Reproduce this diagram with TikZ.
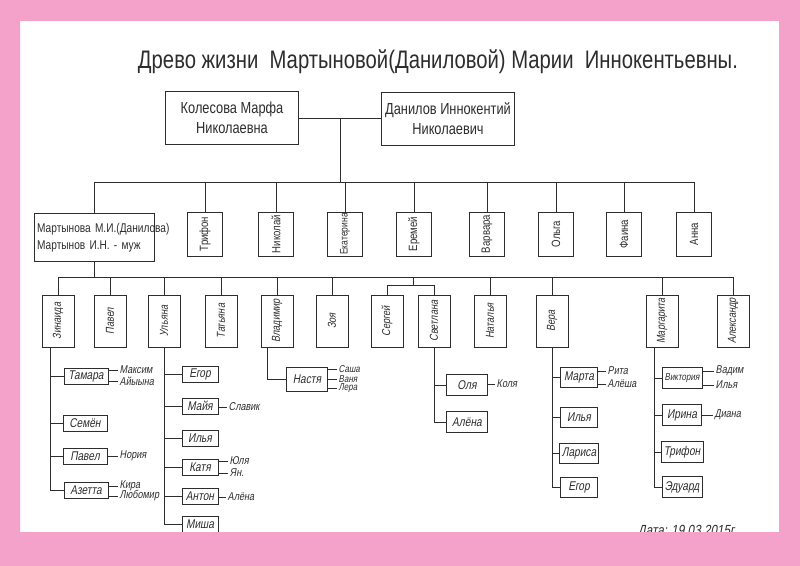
\documentclass[tikz,border=0pt]{standalone}
\usepackage{fontspec}
\usepackage{graphicx}
\setmainfont{Liberation Sans}[FakeStretch=0.8]
\newfontfamily\handfont{Liberation Sans}[FakeStretch=0.8,FakeSlant=0.18]
\usetikzlibrary{positioning,calc}
\definecolor{ink}{RGB}{45,45,45}
\definecolor{pinkframe}{RGB}{245,162,202}

\begin{document}
\begin{tikzpicture}[x=0.75pt, y=-0.75pt, line width=0.6pt, color=ink,
  parent/.style={draw, minimum width=100pt, minimum height=40pt, align=center,
                 font=\fontsize{12}{15}\selectfont, inner sep=2pt},
  self/.style={draw, line width=1.4pt, text width=86pt, minimum height=36pt, align=left,
               font=\fontsize{9.5}{13}\selectfont, inner sep=2pt},
  child/.style={draw, minimum width=26pt, minimum height=33pt, inner sep=0.5pt,
                font=\fontsize{9}{10}\selectfont},
  grand/.style={draw, minimum width=24pt, minimum height=39pt, inner sep=0.5pt,
                font=\handfont\fontsize{8.6}{10}\selectfont},
  kid/.style={draw, minimum height=12pt, inner xsep=2pt, inner ysep=1pt,
              font=\handfont\fontsize{9.5}{10}\selectfont},
  mate/.style={font=\handfont\fontsize{8.5}{9}\selectfont, inner sep=1pt, anchor=west}]

\useasboundingbox (0,0) rectangle (800,566);

\node[font=\fontsize{19}{23}\selectfont] (title) at (438,62)
  {Древо жизни\ \ Мартыновой(Даниловой) Марии\ \ Иннокентьевны.};

% parents
\node[parent] (kol) at (232,118) {Колесова Марфа\\Николаевна};
\node[parent] (dan) at (448,119) {Данилов Иннокентий\\Николаевич};

% their children
\node[self] (mart) at (94.5,237.5) {\mbox{Мартынова М.И.(Данилова)}\\\mbox{Мартынов И.Н. - муж}};
\node[child] (trif) at (205,234) {\rotatebox{90}{Трифон}};
\node[child] (nik) at (276,234) {\rotatebox{90}{Николай}};
\node[child, font=\fontsize{8}{9}\selectfont] (ekat) at (345,234) {\rotatebox{90}{Екатерина}};
\node[child] (erem) at (414,234) {\rotatebox{90}{Еремей}};
\node[child] (varv) at (487,234) {\rotatebox{90}{Варвара}};
\node[child] (olga) at (556,234) {\rotatebox{90}{Ольга}};
\node[child] (faina) at (624,234) {\rotatebox{90}{Фаина}};
\node[child] (anna) at (694,234) {\rotatebox{90}{Анна}};

\coordinate (join) at ($(kol.east)!.5!(dan.west)$);
\coordinate (bar2) at (0,182);
\draw (kol.east) -- (kol.east -| dan.west);
\draw (join) -- (join |- bar2);
\draw (mart.north |- bar2) -- (anna.north |- bar2);
\draw (mart.north) -- (mart.north |- bar2);
\draw (trif.north) -- (trif.north |- bar2);
\draw (nik.north) -- (nik.north |- bar2);
\draw (ekat.north) -- (ekat.north |- bar2);
\draw (erem.north) -- (erem.north |- bar2);
\draw (varv.north) -- (varv.north |- bar2);
\draw (olga.north) -- (olga.north |- bar2);
\draw (faina.north) -- (faina.north |- bar2);
\draw (anna.north) -- (anna.north |- bar2);

% grandchildren
\node[grand] (zin) at (58,321) {\rotatebox{90}{Зинаида}};
\node[grand] (pav) at (110,321) {\rotatebox{90}{Павел}};
\node[grand] (ulj) at (164,321) {\rotatebox{90}{Ульяна}};
\node[grand] (tat) at (221,321) {\rotatebox{90}{Татьяна}};
\node[grand] (vla) at (277,321) {\rotatebox{90}{Владимир}};
\node[grand] (zoja) at (332,321) {\rotatebox{90}{Зоя}};
\node[grand] (ser) at (387,321) {\rotatebox{90}{Сергей}};
\node[grand] (sve) at (434,321) {\rotatebox{90}{Светлана}};
\node[grand] (nat) at (490,321) {\rotatebox{90}{Наталья}};
\node[grand] (vera) at (552,321) {\rotatebox{90}{Вера}};
\node[grand] (marg) at (662,321) {\rotatebox{90}{Маргарита}};
\node[grand] (alex) at (733,321) {\rotatebox{90}{Александр}};

\coordinate (bar3) at (0,277);
\coordinate (fork) at (413,285);
\draw (mart.south) -- (mart.south |- bar3);
\draw (zin.north |- bar3) -- (alex.north |- bar3);
\draw (zin.north) -- (zin.north |- bar3);
\draw (pav.north) -- (pav.north |- bar3);
\draw (ulj.north) -- (ulj.north |- bar3);
\draw (tat.north) -- (tat.north |- bar3);
\draw (vla.north) -- (vla.north |- bar3);
\draw (zoja.north) -- (zoja.north |- bar3);
\draw (fork |- bar3) -- (fork);
\draw (ser.north) |- (fork);
\draw (sve.north) |- (fork);
\draw (nat.north) -- (nat.north |- bar3);
\draw (vera.north) -- (vera.north |- bar3);
\draw (marg.north) -- (marg.north |- bar3);
\draw (alex.north) -- (alex.north |- bar3);

% Zinaida's line
\coordinate (zs) at ([xshift=-6pt]zin.south);
\node[kid, minimum width=33pt] (tam) at (86,376) {Тамара};
\node[kid, minimum width=33pt] (sem) at (85,423) {Семён};
\node[kid, minimum width=33pt] (pavz) at (85,456) {Павел};
\node[kid, minimum width=33pt] (aze) at (86,490) {Азетта};
\draw (zs) |- (aze.west);
\draw (zs |- tam.west) -- (tam.west);
\draw (zs |- sem.west) -- (sem.west);
\draw (zs |- pavz.west) -- (pavz.west);
\node[mate] (maks) at (118,370) {Максим};
\node[mate] (ajy) at (118,381) {Айыына};
\node[mate] (nor) at (118,456) {Нория};
\node[mate] (kira) at (118,486) {Кира};
\node[mate] (lub) at (118,496) {Любомир};
\draw (tam.east |- maks.west) -- (maks.west);
\draw (tam.east |- ajy.west) -- (ajy.west);
\draw (pavz.east |- nor.west) -- (nor.west);
\draw (aze.east |- kira.west) -- (kira.west);
\draw (aze.east |- lub.west) -- (lub.west);

% Uljana's line
\node[kid, minimum width=27pt] (egor) at (200,374) {Егор};
\node[kid, minimum width=27pt] (maja) at (200,406) {Майя};
\node[kid, minimum width=27pt] (ilja) at (200,438) {Илья};
\node[kid, minimum width=27pt] (katja) at (200,467) {Катя};
\node[kid, minimum width=27pt] (anton) at (200,496) {Антон};
\node[kid, minimum width=27pt] (misha) at (200,524) {Миша};
\draw (ulj.south) |- (misha.west);
\draw (ulj.south |- egor.west) -- (egor.west);
\draw (ulj.south |- maja.west) -- (maja.west);
\draw (ulj.south |- ilja.west) -- (ilja.west);
\draw (ulj.south |- katja.west) -- (katja.west);
\draw (ulj.south |- anton.west) -- (anton.west);
\node[mate] (slav) at (227,407) {Славик};
\node[mate] (julja) at (228,461) {Юля};
\node[mate] (jan) at (228,473) {Ян.};
\node[mate] (alja) at (226,497) {Алёна};
\draw (maja.east |- slav.west) -- (slav.west);
\draw (katja.east |- julja.west) -- (julja.west);
\draw (katja.east |- jan.west) -- (jan.west);
\draw (anton.east |- alja.west) -- (alja.west);

% Vladimir's line
\coordinate (vs) at ([xshift=-7pt]vla.south);
\node[kid, minimum width=31pt, minimum height=18pt] (nast) at (307,379) {Настя};
\draw (vs) |- (nast.west);
\node[mate, font=\handfont\fontsize{7.5}{8}\selectfont] (sasha) at (337,369.5) {Саша};
\node[mate, font=\handfont\fontsize{7.5}{8}\selectfont] (vanja) at (337,379) {Ваня};
\node[mate, font=\handfont\fontsize{7.5}{8}\selectfont] (lera) at (337,388.5) {Лера};
\draw (nast.east |- sasha.west) -- (sasha.west);
\draw (nast.east |- vanja.west) -- (vanja.west);
\draw (nast.east |- lera.west) -- (lera.west);

% Svetlana's line
\node[kid, minimum width=31pt, minimum height=16pt] (olja) at (467,385) {Оля};
\node[kid, minimum width=31pt, minimum height=16pt] (alen) at (467,422) {Алёна};
\draw (sve.south) |- (alen.west);
\draw (sve.south |- olja.west) -- (olja.west);
\node[mate] (kolja) at (495,384) {Коля};
\draw (olja.east |- kolja.west) -- (kolja.west);

% Vera's line
\node[kid, minimum width=28pt, minimum height=15pt] (marta) at (579,377) {Марта};
\node[kid, minimum width=28pt, minimum height=15pt] (iljv) at (579,417) {Илья};
\node[kid, minimum width=28pt, minimum height=15pt] (lar) at (579,453) {Лариса};
\node[kid, minimum width=28pt, minimum height=15pt] (egorv) at (579,487) {Егор};
\draw (vera.south) |- (egorv.west);
\draw (vera.south |- marta.west) -- (marta.west);
\draw (vera.south |- iljv.west) -- (iljv.west);
\draw (vera.south |- lar.west) -- (lar.west);
\node[mate] (rita) at (606,371) {Рита};
\node[mate] (alesha) at (606,384) {Алёша};
\draw (marta.east |- rita.west) -- (rita.west);
\draw (marta.east |- alesha.west) -- (alesha.west);

% Margarita's line
\coordinate (ms) at ([xshift=-6pt]marg.south);
\node[kid, minimum width=29pt, minimum height=16pt, font=\handfont\fontsize{7.5}{9}\selectfont] (vikt) at (682,378) {Виктория};
\node[kid, minimum width=29pt, minimum height=16pt] (irina) at (682,415) {Ирина};
\node[kid, minimum width=29pt, minimum height=16pt] (trifm) at (682,452) {Трифон};
\node[kid, minimum width=29pt, minimum height=16pt] (edu) at (682,487) {Эдуард};
\draw (ms) |- (edu.west);
\draw (ms |- vikt.west) -- (vikt.west);
\draw (ms |- irina.west) -- (irina.west);
\draw (ms |- trifm.west) -- (trifm.west);
\node[mate] (vadim) at (714,371) {Вадим};
\node[mate] (iljm) at (714,385) {Илья};
\node[mate] (diana) at (713,415) {Диана};
\draw (vikt.east |- vadim.west) -- (vadim.west);
\draw (vikt.east |- iljm.west) -- (iljm.west);
\draw (irina.east |- diana.west) -- (diana.west);

\node[font=\handfont\fontsize{11}{12}\selectfont, anchor=west] (date) at (633,532) {Дата: 19.03.2015г};

% pink frame
\fill[pinkframe, even odd rule] (0,0) rectangle (800,566) (20,21) rectangle (779,532);
\end{tikzpicture}
\end{document}
